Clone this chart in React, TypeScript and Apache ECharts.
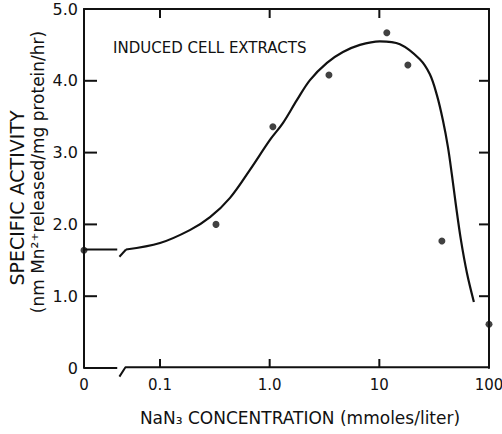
import React, { useEffect, useRef } from "react";
import * as echarts from "echarts";

// measured points (NaN3 concentration in mmoles/liter, specific activity)
const DOT_CONC = [0, 0.324, 1.07, 3.47, 11.7, 18.2, 37.2, 100];
const DOT_ACTIVITY = [1.64, 2.0, 3.36, 4.08, 4.67, 4.22, 1.77, 0.61];

// hand-drawn fitted curve
const CURVE_CONC = [0.049, 0.1, 0.187, 0.286, 0.435, 0.661, 1.01, 1.32, 1.77, 2.33, 3.33, 4.66, 6.65, 10.1, 15.4, 23.4, 28.9, 33.5, 38.0, 42.2, 45.9, 49.9, 55.5, 63.0, 72.8];
const CURVE_ACTIVITY = [1.65, 1.74, 1.92, 2.1, 2.37, 2.76, 3.18, 3.41, 3.73, 4.01, 4.25, 4.4, 4.5, 4.55, 4.51, 4.3, 4.09, 3.8, 3.45, 3.08, 2.69, 2.27, 1.78, 1.32, 0.92];

// axis ticks
const X_TICK_CONC = [0, 0.1, 1, 10, 100];
const X_TICK_LABELS = ["0", "0.1", "1.0", "10", "100"];
const Y_TICK_VALUES = [0, 1, 2, 3, 4, 5];
const Y_TICK_LABELS = ["0", "1.0", "2.0", "3.0", "4.0", "5.0"];

// axis layout constants (log10 units / activity units)
const XMIN = -1.693;
const XMAX = 2;
const YMIN = 0;
const YMAX = 5;
const BREAK_L = -1.39;
const BREAK_R = -1.315;

const toX = (c: number) => (c === 0 ? XMIN : Math.log10(c));
const INK = "#111";
const FONT = "DejaVu Sans";

export default function App() {
  const ref = useRef<HTMLDivElement>(null);
  useEffect(() => {
    if (!ref.current) return;
    const chart = echarts.init(ref.current, undefined, { renderer: "svg" });
    const xTickPos = X_TICK_CONC.map(toX);
    const innerX = xTickPos.filter((v) => v > XMIN + 1e-6 && v < XMAX - 1e-6);
    const innerY = Y_TICK_VALUES.filter((v) => v > YMIN && v < YMAX);
    const xLabel = (v: number) => {
      const i = xTickPos.findIndex((p) => Math.abs(p - v) < 1e-6);
      return i >= 0 ? X_TICK_LABELS[i] : "";
    };
    const yLabel = (v: number) => {
      const i = Y_TICK_VALUES.findIndex((p) => Math.abs(p - v) < 1e-6);
      return i >= 0 ? Y_TICK_LABELS[i] : "";
    };
    const base = CURVE_ACTIVITY[0];
    const lineBase = {
      type: "line" as const,
      symbol: "none",
      silent: true,
      clip: false,
      lineStyle: { color: INK, width: 2 },
      xAxisIndex: 0,
      yAxisIndex: 0,
    };
    const axisLineStyle = { color: INK, width: 2 };
    const texts = [
      {
        id: "t-inset",
        type: "text",
        left: 113,
        top: 40,
        style: { text: "INDUCED CELL EXTRACTS", fill: INK, font: `15px "${FONT}"` },
      },
      {
        id: "t-y1",
        type: "text",
        x: 17,
        y: 198,
        rotation: Math.PI / 2,
        style: {
          text: "SPECIFIC ACTIVITY",
          fill: INK,
          font: `19px "${FONT}"`,
          textAlign: "center",
          textVerticalAlign: "middle",
        },
      },
      {
        id: "t-y2",
        type: "text",
        x: 38,
        y: 172,
        rotation: Math.PI / 2,
        style: {
          text: "(nm Mn\u00B2\u207Areleased/mg protein/hr)",
          fill: INK,
          font: `17px "${FONT}"`,
          textAlign: "center",
          textVerticalAlign: "middle",
        },
      },
      {
        id: "t-x",
        type: "text",
        x: 300,
        y: 418,
        style: {
          text: "NaN\u2083 CONCENTRATION (mmoles/liter)",
          fill: INK,
          font: `17px "${FONT}"`,
          textAlign: "center",
          textVerticalAlign: "middle",
        },
      },
    ];
    chart.setOption({
      animation: false,
      grid: { left: 84, right: 13, top: 9, bottom: 66, containLabel: false, outerBoundsMode: "none" },
      xAxis: [
        {
          type: "value",
          min: XMIN,
          max: XMAX,
          position: "bottom",
          axisLine: { show: false, onZero: false },
          splitLine: { show: false },
          axisTick: { show: false },
          axisLabel: {
            show: true,
            customValues: xTickPos,
            formatter: xLabel,
            color: INK,
            fontFamily: FONT,
            fontSize: 15,
            margin: 9,
          },
        },
        {
          type: "value",
          min: XMIN,
          max: XMAX,
          position: "top",
          axisLine: { show: true, onZero: false, lineStyle: axisLineStyle },
          splitLine: { show: false },
          axisTick: { show: false },
          axisLabel: { show: false },
        },
      ],
      yAxis: [
        {
          type: "value",
          min: YMIN,
          max: YMAX,
          interval: 1,
          position: "left",
          axisLine: { show: true, onZero: false, lineStyle: axisLineStyle },
          splitLine: { show: false },
          axisTick: { show: false },
          axisLabel: {
            show: true,
            formatter: yLabel,
            color: INK,
            fontFamily: FONT,
            fontSize: 16,
            margin: 6,
            padding: [5, 0, 0, 0],
          },
        },
        {
          type: "value",
          min: YMIN,
          max: YMAX,
          interval: 1,
          position: "right",
          axisLine: { show: true, onZero: false, lineStyle: axisLineStyle },
          splitLine: { show: false },
          axisTick: { show: false },
          axisLabel: { show: false },
        },
      ],
      series: [
        // bottom axis with break
        { ...lineBase, data: [[XMIN, 0], [BREAK_L, 0]] },
        { ...lineBase, data: [[BREAK_L + 0.02, -0.12], [BREAK_R, 0.01], [XMAX, 0.01]] },
        // flat part of curve at zero concentration, then break
        { ...lineBase, data: [[XMIN, base], [BREAK_L, base]] },
        { ...lineBase, data: [[BREAK_L + 0.02, base - 0.1], [toX(CURVE_CONC[0]), base]] },
        // fitted curve
        {
          ...lineBase,
          smooth: 0.35,
          lineStyle: { color: INK, width: 2.2 },
          data: CURVE_CONC.map((c, i) => [toX(c), CURVE_ACTIVITY[i]]),
        },
        {
          type: "scatter",
          symbol: "circle",
          symbolSize: 7,
          clip: false,
          itemStyle: { color: INK },
          data: DOT_CONC.map((c, i) => [toX(c), DOT_ACTIVITY[i]]),
          z: 5,
        },
      ],
      graphic: { elements: texts },
    });

    // inward tick marks, positioned through the chart's own scales
    const px = (x: number, y: number) => chart.convertToPixel({ gridIndex: 0 }, [x, y]) as number[];
    const ticks: any[] = [];
    const tick = (id: string, p: number[], dx: number, dy: number) =>
      ticks.push({
        id,
        type: "line",
        silent: true,
        z: 10,
        shape: { x1: p[0], y1: p[1], x2: p[0] + dx, y2: p[1] + dy },
        style: { stroke: INK, lineWidth: 2 },
      });
    innerX.forEach((x, i) => {
      tick(`xb${i}`, px(x, YMIN), 0, -9);
      tick(`xt${i}`, px(x, YMAX), 0, 9);
    });
    innerY.forEach((y, i) => {
      tick(`yl${i}`, px(XMIN, y), 13, 0);
      tick(`yr${i}`, px(XMAX, y), -10, 0);
    });
    chart.setOption({ graphic: { elements: [...texts, ...ticks] } });

    return () => chart.dispose();
  }, []);
  return <div ref={ref} style={{ width: 502, height: 434, position: "absolute", left: 0, top: 0 }} />;
}
